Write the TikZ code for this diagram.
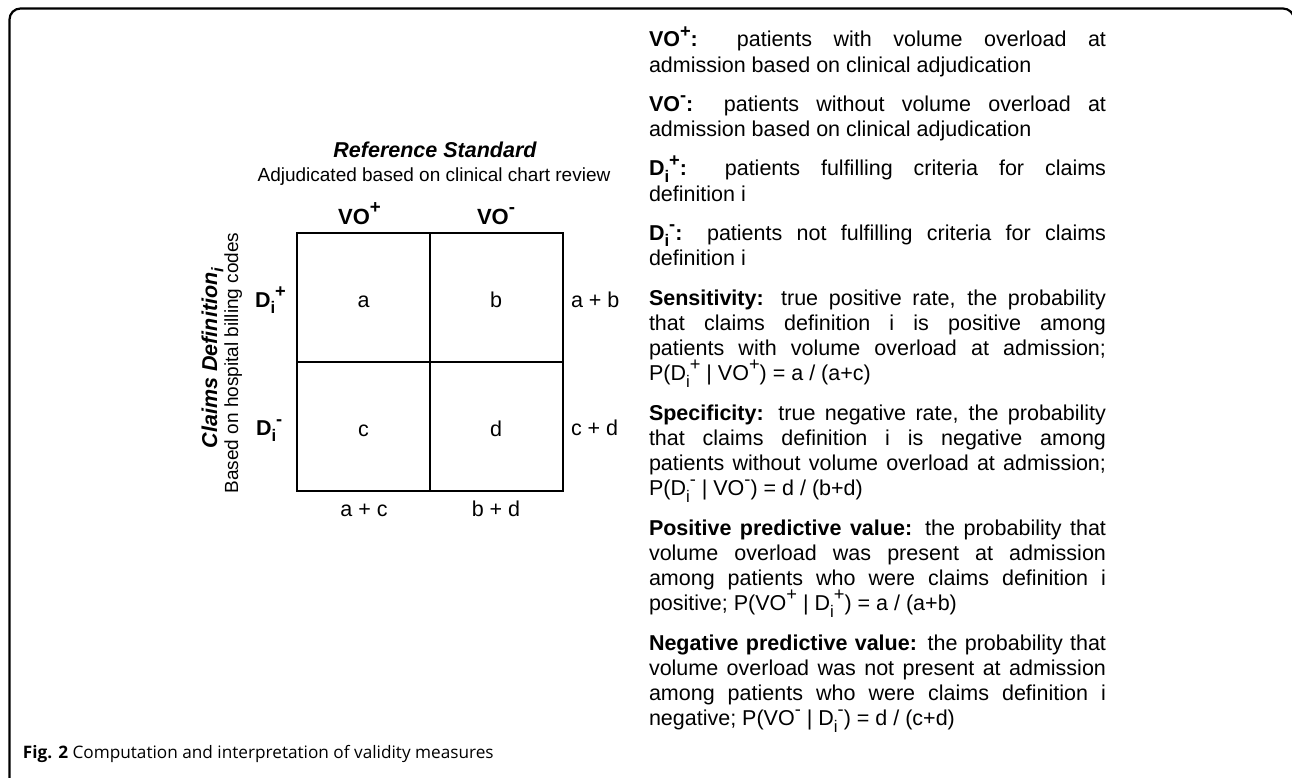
\documentclass[tikz,border=0pt]{standalone}
\usepackage{fontspec}
\usepackage{graphicx}
\setmainfont{Liberation Sans}
\newfontfamily\capfont{Open Sans}
\newcommand\supx[1]{\smash{\raisebox{0.46em}{\scalebox{0.85}{#1}}}}
\newcommand\subx[1]{\smash{\raisebox{-0.3em}{\scalebox{0.78}{#1}}}}
\newcommand\jline[1]{\makebox[457pt][s]{#1}}
\begin{document}
\begin{tikzpicture}[x=1pt,y=-1pt,
  every node/.style={inner sep=0pt,outer sep=0pt},
  body/.style={anchor=base west,font=\fontsize{21.5}{25}\selectfont},
  cell/.style={draw,line width=2pt,minimum width=133pt,minimum height=129pt,
    text height=19pt,text depth=0pt,font=\fontsize{21.5}{25}\selectfont},
  lab/.style={font=\fontsize{21.5}{25}\selectfont},
  hdr/.style={anchor=base,font=\bfseries\fontsize{22}{26}\selectfont},
  frame/.style={line width=2.2pt,rounded corners=11pt}]
\useasboundingbox (0,0) rectangle (1292,778);
\clip (0,0) rectangle (1292,778);
\draw[frame] (9.5,8.5) rectangle (1294,800);

% left table
\node[anchor=base,font=\bfseries\itshape\fontsize{21.5}{25}\selectfont] (rs) at (435,158) {Reference Standard};
\node[anchor=base,font=\fontsize{19}{23}\selectfont] (rssub) at (434,182) {Adjudicated based on clinical chart review};
\node[hdr] (vop) at (359.5,224) {VO\supx{+}};
\node[hdr] (vom) at (496,224) {VO\supx{-}};
\node[cell] (ca) at (363.5,297.5) {a};
\node[cell] (cb) at (496,297.5) {b};
\node[cell] (cc) at (363.5,426.5) {c};
\node[cell] (cd) at (496,426.5) {d};
\node[anchor=base west,font=\bfseries\fontsize{21.5}{25}\selectfont] (dp) at (255,307) {D\subx{i}\supx{+}};
\node[anchor=base west,font=\bfseries\fontsize{21.5}{25}\selectfont] (dm) at (256,435) {D\subx{i}\supx{-}};
\node[lab,anchor=base west] (ab) at (571,307) {a + b};
\node[lab,anchor=base west] (cdsum) at (571,435) {c + d};
\node[lab,anchor=base] (ac) at (364,516) {a + c};
\node[lab,anchor=base] (bd) at (496,516) {b + d};
\node[rotate=90,anchor=base,font=\bfseries\itshape\fontsize{21.5}{25}\selectfont] (cl) at (217,358) {Claims Definition\subx{i}};
\node[rotate=90,anchor=base,font=\fontsize{19}{23}\selectfont] (clsub) at (238,363) {Based on hospital billing codes};

% right text
\node[body] (t1a) at (649,47) {\jline{\textbf{VO\supx{+}:} patients with volume overload at}};
\node[body] (t1b) at (649,72.25) {admission based on clinical adjudication};
\node[body] (t2a) at (649,111.5) {\jline{\textbf{VO\supx{-}:} patients without volume overload at}};
\node[body] (t2b) at (649,136.75) {admission based on clinical adjudication};
\node[body] (t3a) at (649,176) {\jline{\textbf{D\subx{i}\supx{+}:} patients fulfilling criteria for claims}};
\node[body] (t3b) at (649,201.25) {definition i};
\node[body] (t4a) at (649,240.5) {\jline{\textbf{D\subx{i}\supx{-}:} patients not fulfilling criteria for claims}};
\node[body] (t4b) at (649,265.75) {definition i};
\node[body] (t5a) at (649,305) {\jline{\textbf{Sensitivity:} true positive rate, the probability}};
\node[body] (t5b) at (649,330.25) {\jline{that claims definition i is positive among}};
\node[body] (t5c) at (649,355.5) {\jline{patients with volume overload at admission;}};
\node[body] (t5d) at (649,380.75) {P(D\subx{i}\supx{+} | VO\supx{+}) = a / (a+c)};
\node[body] (t6a) at (649,420) {\jline{\textbf{Specificity:} true negative rate, the probability}};
\node[body] (t6b) at (649,445.25) {\jline{that claims definition i is negative among}};
\node[body] (t6c) at (649,470.5) {\jline{patients without volume overload at admission;}};
\node[body] (t6d) at (649,495.75) {P(D\subx{i}\supx{-} | VO\supx{-}) = d / (b+d)};
\node[body] (t7a) at (649,535) {\jline{\textbf{Positive predictive value:} the probability that}};
\node[body] (t7b) at (649,560.25) {\jline{volume overload was present at admission}};
\node[body] (t7c) at (649,585.5) {\jline{among patients who were claims definition i}};
\node[body] (t7d) at (649,610.75) {positive; P(VO\supx{+} | D\subx{i}\supx{+}) = a / (a+b)};
\node[body] (t8a) at (649,650) {\jline{\textbf{Negative predictive value:} the probability that}};
\node[body] (t8b) at (649,675.25) {\jline{volume overload was not present at admission}};
\node[body] (t8c) at (649,700.5) {\jline{among patients who were claims definition i}};
\node[body] (t8d) at (649,725.75) {negative; P(VO\supx{-} | D\subx{i}\supx{-}) = d / (c+d)};

% caption
\node[anchor=base west,font=\capfont\fontsize{17.2}{20}\selectfont] (cap) at (23,758) {\textbf{Fig. 2} Computation and interpretation of validity measures};
\end{tikzpicture}
\end{document}
